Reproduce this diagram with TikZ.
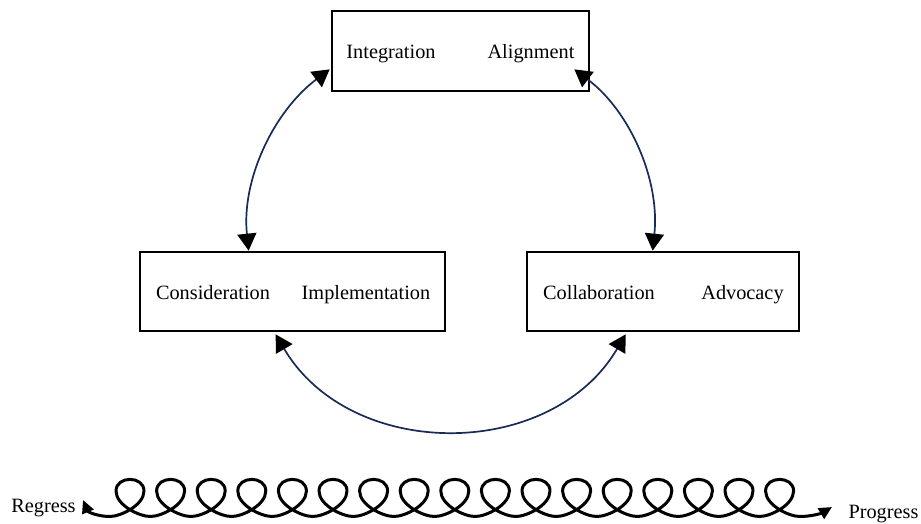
\documentclass[tikz,border=0pt]{standalone}
\usepackage{fontspec}
\setmainfont{Liberation Serif}
\usetikzlibrary{arrows.meta,calc}
\definecolor{arcnavy}{RGB}{24,42,86}
\tikzset{
  box/.style={draw=black, line width=2.7pt, inner sep=0pt},
  lbl/.style={font=\fontsize{20.3}{24}\selectfont, inner sep=0pt, anchor=base},
  link/.style={draw=arcnavy, line width=1.7pt,
    {Triangle[length=17pt,width=19pt,color=black]}-{Triangle[length=17pt,width=19pt,color=black]}},
  coil/.style={line width=3pt, line join=round,
    {Triangle[length=13pt,width=12pt]}-{Triangle[length=13pt,width=12pt]}},
}
\begin{document}
\begin{tikzpicture}[x=1pt,y=1pt]
\useasboundingbox (0,0) rectangle (921,524);
% boxes
\node[box, minimum width=257pt, minimum height=80pt] (T) at (460.5,473) {};
\node[box, minimum width=305pt, minimum height=79pt] (L) at (292.5,232.5) {};
\node[box, minimum width=272pt, minimum height=79pt] (R) at (663,232.5) {};
% labels
\node[lbl] (t1) at (391,465) {Integration};
\node[lbl] (t2) at (531,465) {Alignment};
\node[lbl] (l1) at (213,224) {Consideration};
\node[lbl] (l2) at (366,224) {Implementation};
\node[lbl] (r1) at (599,224) {Collaboration};
\node[lbl] (r2) at (742.5,224) {Advocacy};
\node[lbl] (rg) at (43.5,11.3) {Regress};
\node[lbl] (pg) at (883.5,5.5) {Progress};
% arc end points
\coordinate (a1) at ($(L.north west)+(110,0)$);
\coordinate (a2) at ($(T.south west)+(-1,23)$);
\coordinate (a3) at ($(T.south east)+(-16,23)$);
\coordinate (a4) at ($(R.north west)+(127,0)$);
\coordinate (a5) at ($(L.south west)+(137,-2)$);
\coordinate (a6) at ($(R.south west)+(100,-2)$);
\draw[link] (a1) to[out=96,in=217,looseness=0.91] (a2);
\draw[link] (a3) to[out=-37,in=84,looseness=0.91] (a4);
\draw[link] (a5) to[out=-59.5,in=239.5,looseness=1.08] (a6);
% coil
\coordinate (cL) at (83,24);
\coordinate (cR) at (832,17);
\draw[coil] (cL) .. controls (88,12) and (98,7.5) .. (109.7,7.5)
  \foreach \k [evaluate=\k as \c using 130+40.6*\k] in {0,...,16} {
    .. controls ({\c-9},7.5) and ({\c+14},19) .. ({\c+14},33)
    .. controls ({\c+14},48.5) and ({\c-14},48.5) .. ({\c-14},33)
    .. controls ({\c-14},19) and ({\c+9},7.5) .. ({\c+20.3},7.5)
  }
  .. controls (812,7.5) and (822,11) .. (cR);
\end{tikzpicture}
\end{document}
